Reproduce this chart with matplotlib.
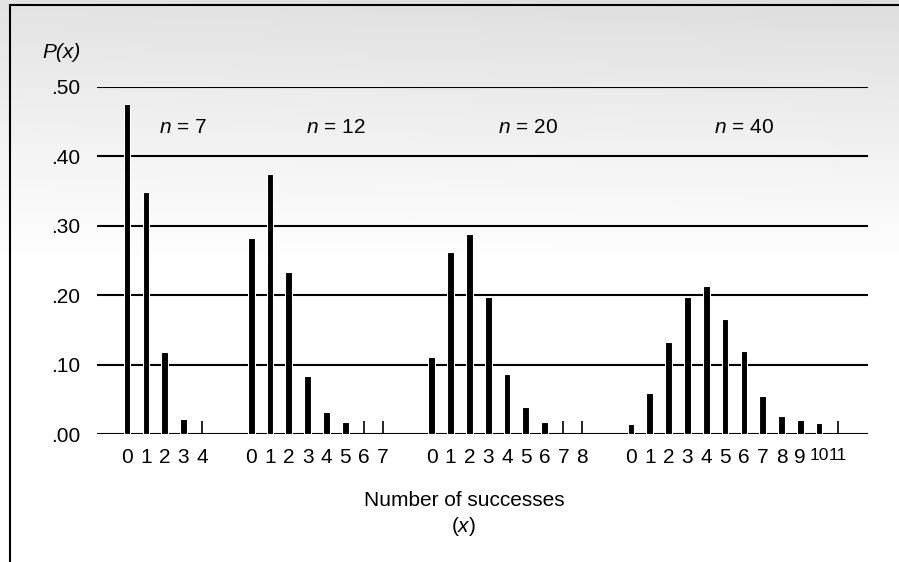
import numpy as np
import matplotlib
matplotlib.use('Agg')
import matplotlib.pyplot as plt
from matplotlib import font_manager

# P(x); zero values are drawn as thin stubs
n_values = [7, 12, 20, 40]
probs_n7 = [0.476, 0.348, 0.118, 0.022, 0.0]
probs_n12 = [0.282, 0.374, 0.233, 0.083, 0.032, 0.017, 0.0, 0.0]
probs_n20 = [0.111, 0.262, 0.288, 0.197, 0.086, 0.039, 0.017, 0.0, 0.0]
probs_n40 = [0.014, 0.059, 0.132, 0.197, 0.213, 0.165, 0.119, 0.055,
             0.026, 0.020, 0.016, 0.0]
y_ticks = [0.0, 0.1, 0.2, 0.3, 0.4, 0.5]
y_tick_labels = ['.00', '.10', '.20', '.30', '.40', '.50']

groups = [probs_n7, probs_n12, probs_n20, probs_n40]

# font: narrow Helvetica-like if available
names = {f.name for f in font_manager.fontManager.ttflist}
fam = 'Liberation Sans Narrow' if 'Liberation Sans Narrow' in names else 'Liberation Sans'
plt.rcParams['font.family'] = [fam, 'DejaVu Sans']
plt.rcParams['mathtext.fontset'] = 'custom'
plt.rcParams['mathtext.rm'] = fam
plt.rcParams['mathtext.it'] = fam + ':italic'

W, H = 899, 562
fig = plt.figure(figsize=(W / 100, H / 100), dpi=100)

# halftone-ish grey background fading out downwards
bg = fig.add_axes([0, 0, 1, 1], zorder=-10)
rows = np.linspace(0, 1, H)
shade = np.clip(1 - rows / 0.47, 0, 1) ** 1.1
cols = np.linspace(0, 1, W)
img = 1 - 0.13 * shade[:, None] * (0.85 + 0.15 * cols[None, :])
bg.imshow(np.dstack([img, img, img]), aspect='auto', extent=[0, 1, 0, 1])
bg.set_xlim(0, 1)
bg.set_ylim(0, 1)
bg.axis('off')
# frame (top and left edges)
bg.plot([10 / W, 10 / W], [0, 1 - 5 / H], color='black', lw=1.5)
bg.plot([10 / W, 1], [1 - 5 / H, 1 - 5 / H], color='black', lw=1.5)

ax = fig.add_axes([97 / W, 1 - 434 / H, (868 - 97) / W, 347 / H])
ax.patch.set_alpha(0)

gap = 2.6
stub = 0.019
start = 0.0
label_offsets = [3.0, 4.5, 5.1, 6.0]
positions, labels = [], []
for n, probs, lo in zip(n_values, groups, label_offsets):
    xs = start + np.arange(len(probs))
    vals = np.array(probs)
    big = vals > 0
    ax.bar(xs[big], vals[big], width=0.36, color='black',
           edgecolor='white', linewidth=0.8, zorder=3)
    ax.vlines(xs[~big], 0, stub, color='black', lw=1.2, zorder=3)
    ax.text(start + lo, 0.442, r'$n$ = %d' % n, ha='center', va='center',
            fontsize=15)
    positions += list(xs)
    labels += [str(k) for k in range(len(probs))]
    start = xs[-1] + gap

ax.set_xlim(-1.6, 39.4)
ax.set_ylim(0, 0.5)
ax.set_xticks(positions)
ax.set_xticklabels(labels, fontsize=15)
for t in ax.get_xticklabels():
    if len(t.get_text()) > 1:
        t.set_fontsize(12.5)
ax.set_yticks(y_ticks)
ax.set_yticklabels(y_tick_labels, fontsize=15)
ax.tick_params(axis='x', length=0, pad=10)
ax.tick_params(axis='y', length=0, pad=12)
ax.yaxis.grid(True, color='black', lw=1.5, zorder=1)
ax.set_axisbelow(True)
for s in ax.spines.values():
    s.set_visible(False)

fig.text(62 / W, 1 - 53 / H, 'P(x)', style='italic', fontsize=15,
         ha='center', va='center')
fig.text(464 / W, 1 - 500 / H, 'Number of successes', fontsize=15,
         ha='center', va='center')
fig.text(464 / W, 1 - 527 / H, r'($\mathit{x}$)', fontsize=15,
         ha='center', va='center')

fig.savefig('out.png', dpi=100)
